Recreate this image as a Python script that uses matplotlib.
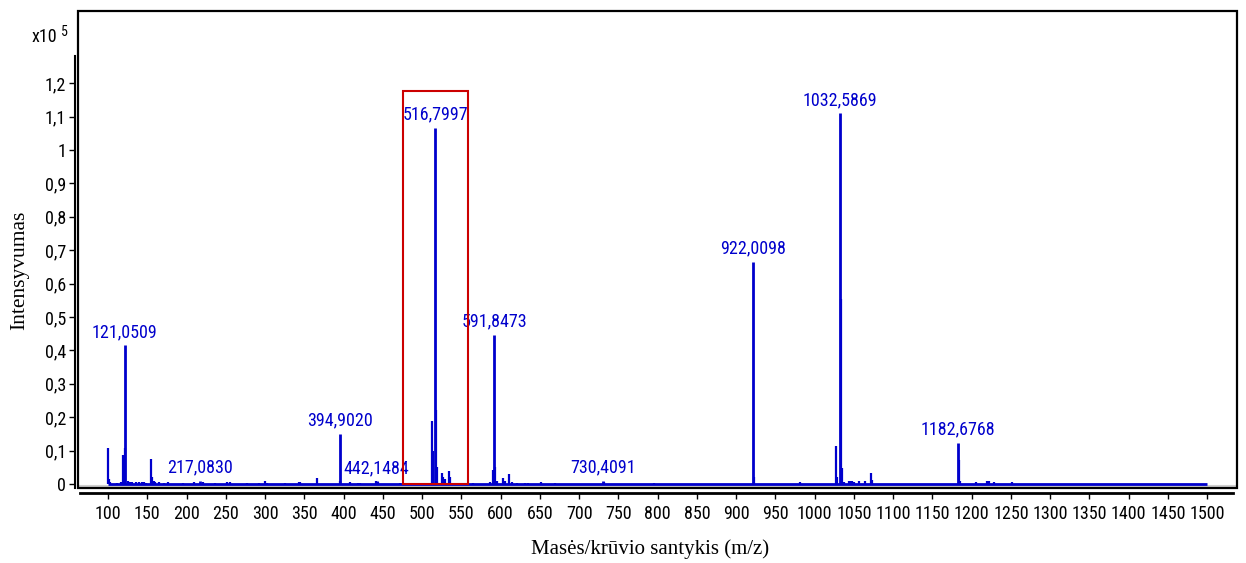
import numpy as np
import matplotlib
matplotlib.use("Agg")
import matplotlib.pyplot as plt
from matplotlib.patches import Rectangle
from matplotlib import font_manager as fm

# labelled peaks (m/z, intensity in 1e5 units)
label_mz = [121.0509, 217.0830, 394.9020, 442.1484, 516.7997, 591.8473,
            730.4091, 922.0098, 1032.5869, 1182.6768]
label_int = [0.415, 0.009, 0.150, 0.008, 1.067, 0.446, 0.009, 0.666, 1.110, 0.124]
label_txt = ["121,0509", "217,0830", "394,9020", "442,1484", "516,7997",
             "591,8473", "730,4091", "922,0098", "1032,5869", "1182,6768"]

# other peaks
minor_mz = [100.3, 101.2, 103, 112, 117, 119.0, 122.05, 125, 128, 131, 136, 139,
            143, 146, 149, 154.3, 156, 158, 160, 165, 171, 177, 196, 209, 221,
            236, 252, 255, 277, 292, 300, 302, 326, 343, 345, 365.8, 396, 408,
            419, 421, 441, 443.5, 472, 498, 512.3, 514.3, 518.2, 519.5, 525, 527,
            529, 534.8, 536, 541, 547, 556, 565, 587, 590.8, 593, 596, 603.5,
            606, 611.2, 614, 621, 631, 635, 651, 669, 732, 795, 923, 981,
            1027, 1028.5, 1033.6, 1035, 1038, 1044, 1046, 1048, 1050, 1057,
            1064, 1071.5, 1073, 1183.7, 1185, 1205, 1220, 1222, 1228, 1252]
minor_int = [0.107, 0.015, 0.005, 0.004, 0.006, 0.088, 0.108, 0.010, 0.005, 0.005,
             0.006, 0.005, 0.006, 0.005, 0.004, 0.076, 0.020, 0.010, 0.006, 0.005,
             0.004, 0.005, 0.004, 0.005, 0.005, 0.004, 0.006, 0.005, 0.004, 0.004,
             0.008, 0.004, 0.004, 0.005, 0.005, 0.017, 0.010, 0.005, 0.004, 0.004,
             0.008, 0.006, 0.004, 0.004, 0.190, 0.100, 0.222, 0.050, 0.033, 0.022,
             0.015, 0.039, 0.020, 0.004, 0.004, 0.004, 0.004, 0.006, 0.042, 0.050,
             0.010, 0.018, 0.010, 0.029, 0.006, 0.004, 0.004, 0.004, 0.005, 0.004,
             0.006, 0.004, 0.020, 0.005, 0.114, 0.020, 0.553, 0.049, 0.006, 0.010,
             0.008, 0.010, 0.006, 0.008, 0.010, 0.032, 0.012, 0.072, 0.010, 0.006,
             0.010, 0.008, 0.005, 0.006]

x_ticks = np.arange(100, 1501, 50)
y_ticks = np.round(np.arange(0, 1.21, 0.1), 1)
y_tick_txt = ["0" if v == 0 else ("1" if v == 1 else ("%.1f" % v).replace(".", ","))
              for v in y_ticks]

BLUE = "#0000cc"
SERIF = ["Liberation Serif", "DejaVu Serif"]


# look for a narrow sans face (Arial Narrow look), else plain Liberation Sans
def narrow_font():
    best = None
    for f in fm.fontManager.ttflist:
        nm = f.name.lower()
        if f.style != "normal" or f.weight not in (400, "normal", "regular"):
            continue
        if "serif" in nm and "sans" not in nm:
            continue
        if "mono" in nm:
            continue
        if "narrow" in nm or "condensed" in nm or f.stretch in ("condensed", "semi-condensed"):
            rank = 0 if "liberation" in nm else (1 if "roboto" in nm else 2)
            if best is None or rank < best[0]:
                best = (rank, f.fname)
    return best[1] if best else None


NARROW_PATH = narrow_font()


def nfont(size):
    if NARROW_PATH:
        return fm.FontProperties(fname=NARROW_PATH, size=size)
    return fm.FontProperties(family="Liberation Sans", size=size * 0.82)


W, H = 1246, 563
fig = plt.figure(figsize=(W / 100, H / 100), dpi=100)
ax = fig.add_axes([78 / W, 1 - 488 / H, (1237 - 78) / W, (488 - 11) / H])
ax.set_xlim(61.8, 1538)
ax.set_ylim(-0.012, 1.416)

# spectrum
ax.axhline(-0.006, color="#d0d0d0", lw=1.5, zorder=1)
ax.hlines(0, 100, 1500, color=BLUE, lw=2, zorder=2)
ax.vlines(minor_mz, 0, minor_int, color=BLUE, lw=1.6, zorder=3)
ax.vlines(label_mz, 0, label_int, color=BLUE, lw=2, zorder=3)
for mz, h, t in zip(label_mz, label_int, label_txt):
    ax.annotate(t, (mz, h), xytext=(0, 3), textcoords="offset points",
                ha="center", va="bottom", color=BLUE, fontproperties=nfont(13))

# highlighted region
ax.add_patch(Rectangle((475.8, 0), 82.8, 1.177, fill=False,
                       edgecolor="#cc0000", lw=1.5, zorder=4))

# frame + detached axes
ax.add_patch(Rectangle((0, 0), 1, 1, transform=ax.transAxes, fill=False,
                       edgecolor="black", lw=1.6, clip_on=False, zorder=5))
for s in ["top", "right"]:
    ax.spines[s].set_visible(False)
ax.spines["left"].set_position(("outward", 2))
ax.spines["left"].set_bounds(-0.012, 1.28)
ax.spines["bottom"].set_position(("outward", 3.5))
ax.spines["bottom"].set_bounds(64, 1533)
ax.spines["bottom"].set_linewidth(2)
ax.spines["left"].set_linewidth(1.5)

ax.set_xticks(x_ticks)
ax.set_xticklabels([str(v) for v in x_ticks])
ax.set_yticks(y_ticks)
ax.set_yticklabels(y_tick_txt)
for lab in ax.get_xticklabels() + ax.get_yticklabels():
    lab.set_fontproperties(nfont(13))
ax.tick_params(axis="x", direction="out", length=4.5, width=1, pad=4)
ax.tick_params(axis="y", direction="out", length=4.5, width=1, pad=2)

fig.text(32 / W, 1 - 42 / H, "x10", fontproperties=nfont(13),
         ha="left", va="baseline")
fig.text(61 / W, 1 - 36 / H, "5", fontproperties=nfont(10),
         ha="left", va="baseline")
fig.text(650 / W, 1 - 549 / H, "Masės/krūvio santykis (m/z)", family=SERIF,
         fontsize=15, ha="center", va="center")
fig.text(20 / W, 1 - 270 / H, "Intensyvumas", family=SERIF, fontsize=15.5,
         rotation=90, ha="center", va="center")

fig.savefig("out.png", dpi=100)
